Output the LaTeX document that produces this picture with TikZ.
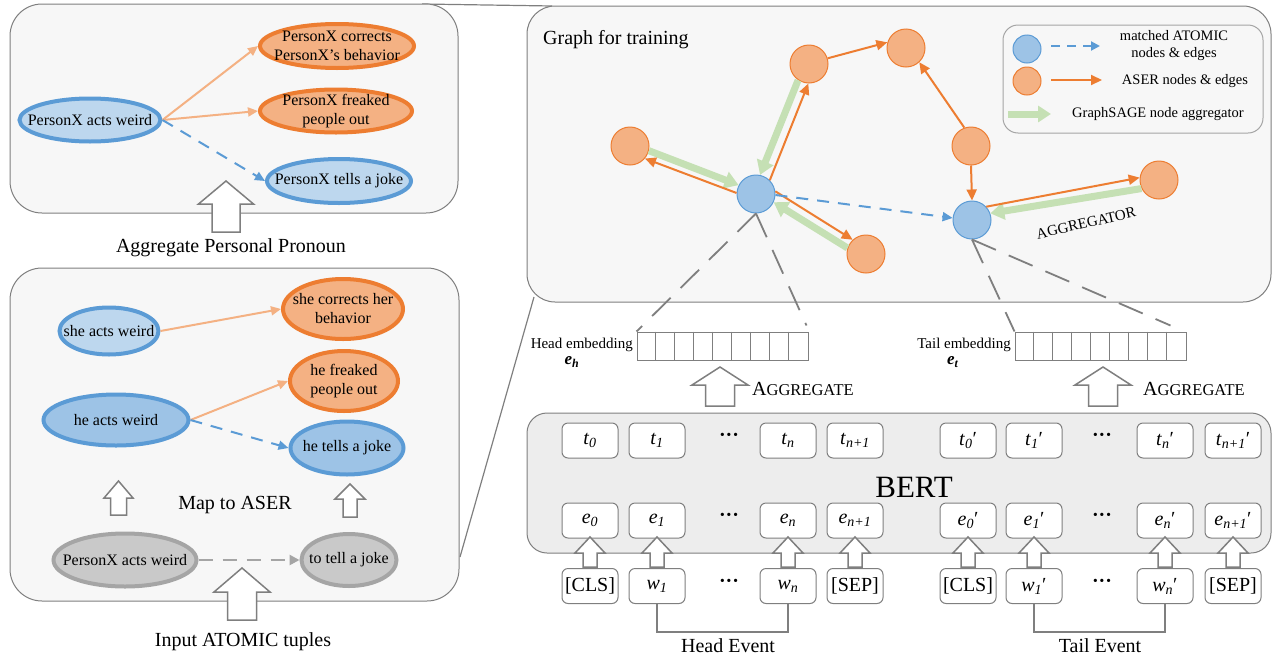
\documentclass[tikz,border=0pt]{standalone}
\usepackage{fontspec}
\setmainfont{Liberation Serif}
\usetikzlibrary{arrows.meta,calc,shapes.geometric}
\definecolor{bluefillA}{HTML}{BDD7EE}
\definecolor{bluefillB}{HTML}{9DC3E6}
\definecolor{blueline}{HTML}{5B9BD5}
\definecolor{orfill}{HTML}{F4B183}
\definecolor{orline}{HTML}{ED7D31}
\definecolor{gyfill}{HTML}{C9C9C9}
\definecolor{gyline}{HTML}{A5A5A5}
\definecolor{panelfill}{HTML}{F7F7F7}
\definecolor{panelline}{HTML}{7F7F7F}
\definecolor{bertfill}{HTML}{EDEDED}
\definecolor{aggreen}{HTML}{C5E0B4}
\newcommand\tsub[2]{\textit{#1}\textsubscript{\textit{#2}}}
\newcommand\aggtext{{\fontsize{20}{22}\selectfont A}{\fontsize{16.5}{20}\selectfont GGREGATE}}
\newcommand\hollowup[6]{%
  \draw[hollowarr] (#1,#2) -- ({#1+#5},#3) -- ({#1+#6},#3) -- ({#1+#6},#4) -- ({#1-#6},#4) -- ({#1-#6},#3) -- ({#1-#5},#3) -- cycle;}
\tikzset{
  panel/.style={draw=panelline, fill=panelfill, line width=1pt, rounded corners=32pt},
  zoomline/.style={draw=panelline, line width=1.2pt},
  eltxt/.style={font=\fontsize{16}{19}\selectfont, align=center, inner sep=0pt},
  ellA/.style={ellipse, draw=blueline, fill=bluefillA, line width=4pt, inner sep=0pt},
  ellB/.style={ellipse, draw=blueline, fill=bluefillB, line width=4pt, inner sep=0pt},
  ellO/.style={ellipse, draw=orline, fill=orfill, line width=4pt, inner sep=0pt},
  ellG/.style={ellipse, draw=gyline, fill=gyfill, line width=4pt, inner sep=0pt},
  larr/.style={draw=orfill, line width=2pt, -{Triangle[length=10pt,width=9pt]}},
  barr/.style={draw=blueline, line width=2pt, dash pattern=on 12pt off 9pt, -{Triangle[length=10pt,width=9pt]}},
  garr0/.style={draw=gyline, line width=2.5pt, dash pattern=on 14pt off 10pt, -{Triangle[length=10pt,width=10pt]}},
  hollowarr/.style={draw=panelline, fill=white, line width=1.5pt, line join=miter},
  caption/.style={font=\fontsize{20}{22}\selectfont, inner sep=0pt},
  gnode/.style={circle, minimum size=38pt, inner sep=0pt, line width=1pt},
  bnode/.style={gnode, draw=blueline, fill=bluefillB},
  onode/.style={gnode, draw=orline, fill=orfill},
  oarr/.style={draw=orline, line width=2pt, -{Triangle[length=11pt,width=10pt]}},
  greenarr/.style={draw=aggreen, line width=7pt, -{Triangle[length=14pt,width=17pt]}},
  bdash/.style={draw=blueline, line width=2pt, dash pattern=on 12pt off 9pt, -{Triangle[length=10pt,width=9pt]}},
  emdash/.style={draw=panelline, line width=1.8pt, dash pattern=on 26pt off 14pt},
  legtxt/.style={font=\fontsize{14.5}{17}\selectfont, align=center, inner sep=0pt},
  emb/.style={draw=panelline, line width=1pt, minimum width=171pt, minimum height=28pt, inner sep=0pt},
  tok/.style={draw=panelline, fill=white, rounded corners=6pt, minimum width=56pt, minimum height=35pt, inner sep=0pt, line width=1pt, font=\fontsize{20}{22}\selectfont},
  dots/.style={font=\fontsize{20}{22}\selectfont\bfseries, inner sep=0pt},
  bracket/.style={draw=panelline, line width=1.2pt},
}
\begin{document}
\begin{tikzpicture}[x=1pt,y=-1pt]
\useasboundingbox (0,0) rectangle (1277,659);

% zoom indicator lines
\draw[zoomline] (422,4) -- (552,6);
\draw[zoomline] (460,557) -- (534,297);

% panels
\draw[panel] (10,4) rectangle (458,213);
\draw[panel] (10,268) rectangle (459,601);
\draw[panel, rounded corners=28pt] (527,6) rectangle (1271,302);
\draw[panel, fill=bertfill, rounded corners=20pt] (527,413) rectangle (1271,553);

% ---------- top-left panel ----------
\node[ellA, minimum width=141pt, minimum height=43pt, label={[eltxt]center:PersonX acts weird}] (a1) at (90,120) {};
\node[ellO, minimum width=154pt, minimum height=44pt, label={[eltxt]center:{PersonX corrects\\PersonX's behavior}}] (a2) at (337,46) {};
\node[ellO, minimum width=152pt, minimum height=43pt, label={[eltxt]center:{PersonX freaked\\people out}}] (a3) at (336,111) {};
\node[ellA, minimum width=144pt, minimum height=44pt, label={[eltxt]center:PersonX tells a joke}] (a4) at (339,181) {};
\draw[larr] (a1.east) -- (a2.west);
\draw[larr] (a1.east) -- (a3.west);
\draw[barr] (a1.east) -- (a4.west);
\hollowup{226}{181}{204}{232}{27.5}{14}
\node[caption] (cap1) at (231,248) {Aggregate Personal Pronoun};

% ---------- bottom-left panel ----------
\node[ellA, minimum width=99pt, minimum height=47pt, label={[eltxt]center:she acts weird}] (b1) at (109,331) {};
\node[ellB, minimum width=145pt, minimum height=51pt, label={[eltxt]center:he acts weird}] (b2) at (116,420) {};
\node[ellO, minimum width=120pt, minimum height=60pt, label={[eltxt]center:{she corrects her\\behavior}}] (b3) at (343,309) {};
\node[ellO, minimum width=108pt, minimum height=60pt, label={[eltxt]center:{he freaked\\people out}}] (b4) at (344,381) {};
\node[ellB, minimum width=113pt, minimum height=53pt, label={[eltxt]center:he tells a joke}] (b5) at (347,448) {};
\node[ellG, minimum width=143pt, minimum height=53pt, label={[eltxt]center:PersonX acts weird}] (b6) at (125,560) {};
\node[ellG, minimum width=95pt, minimum height=52pt, label={[eltxt]center:to tell a joke}] (b7) at (349,560) {};
\draw[larr] (b1.east) -- (b3.west);
\draw[larr] (b2.east) -- (b4.west);
\draw[barr] (b2.east) -- (b5.west);
\draw[garr0] (b6.east) -- (b7.west);
\hollowup{118.5}{481}{498}{515}{14.5}{8}
\hollowup{350}{484}{499}{517}{15}{7}
\node[caption] (cap2) at (235,505) {Map to ASER};
\hollowup{242}{568}{592}{620}{28}{14.5}
\node[caption] (cap3) at (243,642) {Input ATOMIC tuples};

% ---------- graph panel ----------
\node[caption, anchor=west] (gtitle) at (543,40) {Graph for training};
\node[bnode] (h) at (756,194) {};
\node[bnode] (t) at (972,220) {};
\node[onode] (o1) at (630,146) {};
\node[onode] (o2) at (809,64) {};
\node[onode] (o3) at (906,48) {};
\node[onode] (o4) at (971,146) {};
\node[onode] (o5) at (866,254) {};
\node[onode] (o6) at (1159,180) {};

\draw[greenarr] (o1.-14) -- (h.153);
\draw[greenarr] (o2.236) -- (h.78);
\draw[greenarr] (o5.162) -- (h.-25);
\draw[greenarr] (o6.206) -- (t.20);
\draw[oarr] (h.177) -- (o1.-40);
\draw[oarr] (h.45) -- (o2.268);
\draw[oarr] (h.8) -- (o5.133);
\draw[oarr] (t.43) -- (o6.173);
\draw[oarr] (o2.17) -- (o3.163);
\draw[oarr] (o4.110) -- (o3.-47);
\draw[oarr] (o4.south) -- (t.north);
\draw[bdash] (h.-3) -- (t.174);
\node[font=\fontsize{15}{17}\selectfont, rotate=13, inner sep=0pt] (aggr) at (1086,223) {AGGREGATOR};

% legend
\draw[draw=gyline, fill=panelfill, line width=1pt, rounded corners=15pt] (1003,25) rectangle (1263,133);
\node[bnode, minimum size=28pt] (lb) at (1027,49) {};
\node[onode, minimum size=28pt] (lo) at (1027,81) {};
\coordinate (lb1) at (1051,46); \coordinate (lb2) at (1100,46);
\coordinate (lo1) at (1051,80); \coordinate (lo2) at (1102,80);
\coordinate (lg1) at (1008,114); \coordinate (lg2) at (1051,114);
\draw[draw=blueline, line width=2pt, dash pattern=on 9pt off 7pt, -{Triangle[length=9pt,width=9pt]}] (lb1) -- (lb2);
\draw[oarr] (lo1) -- (lo2);
\draw[greenarr, -{Triangle[length=13pt,width=16pt]}] (lg1) -- (lg2);
\node[legtxt] (lt1) at (1174,46) {matched ATOMIC\\nodes \& edges};
\node[legtxt] (lt2) at (1185,81) {ASER nodes \& edges};
\node[legtxt] (lt3) at (1158,114) {GraphSAGE node aggregator};

% ---------- embeddings ----------
\node[emb] (eh) at (722.5,346) {};
\node[emb] (et) at (1100.5,346) {};
\foreach \i in {1,...,8} {
  \draw[draw=panelline, line width=1pt] ($(eh.north west)+(19*\i,0)$) -- ($(eh.south west)+(19*\i,0)$);
  \draw[draw=panelline, line width=1pt] ($(et.north west)+(19*\i,0)$) -- ($(et.south west)+(19*\i,0)$);
}
\draw[emdash] (h.south) -- (eh.north west);
\draw[emdash] (h.south) -- ($(eh.north east)+(-2,-6)$);
\draw[emdash] (t.south) -- (et.north west);
\draw[emdash] (t.south) -- ($(et.north east)+(-16,-6)$);
\node[font=\fontsize{15}{17}\selectfont, anchor=east, inner sep=0pt] (ehl) at (633,345) {Head embedding};
\node[font=\fontsize{17}{19}\selectfont, inner sep=0pt] (ehs) at (572,362) {\textbf{\textit{e}}\textsubscript{\textbf{\textit{h}}}};
\node[font=\fontsize{15}{17}\selectfont, anchor=east, inner sep=0pt] (etl) at (1011,345) {Tail embedding};
\node[font=\fontsize{17}{19}\selectfont, inner sep=0pt] (ets) at (953,362) {\textbf{\textit{e}}\textsubscript{\textbf{\textit{t}}}};
\hollowup{720}{367}{385}{406}{28}{14.5}
\node[anchor=west, inner sep=0pt] (ag1) at (752,389) {\aggtext};
\hollowup{1103}{367}{385}{406}{28}{14.5}
\node[anchor=west, inner sep=0pt] (ag2) at (1143,389) {\aggtext};

% ---------- BERT ----------
\node[font=\fontsize{31}{33}\selectfont, inner sep=0pt] (bert) at (914,487) {BERT};
% top row
\node[tok] (t0) at (590,440.5) {\tsub{t}{0}};
\node[tok] (t1) at (657,440.5) {\tsub{t}{1}};
\node[dots] (td) at (729,437) {···};
\node[tok] (tn) at (788,440.5) {\tsub{t}{n}};
\node[tok] (tn1) at (855,440.5) {\tsub{t}{n+1}};
\node[tok] (t0p) at (968,440.5) {\tsub{t}{0}′};
\node[tok] (t1p) at (1034,440.5) {\tsub{t}{1}′};
\node[dots] (tdp) at (1102,437) {···};
\node[tok] (tnp) at (1165,440.5) {\tsub{t}{n}′};
\node[tok] (tn1p) at (1233,440.5) {\tsub{t}{n+1}′};
% e row
\node[tok] (e0) at (590,520.5) {\tsub{e}{0}};
\node[tok] (e1) at (657,520.5) {\tsub{e}{1}};
\node[dots] (ed) at (729,517) {···};
\node[tok] (en) at (788,520.5) {\tsub{e}{n}};
\node[tok] (en1) at (855,520.5) {\tsub{e}{n+1}};
\node[tok] (e0p) at (968,520.5) {\tsub{e}{0}′};
\node[tok] (e1p) at (1034,520.5) {\tsub{e}{1}′};
\node[dots] (edp) at (1102,517) {···};
\node[tok] (enp) at (1165,520.5) {\tsub{e}{n}′};
\node[tok] (en1p) at (1233,520.5) {\tsub{e}{n+1}′};
% input row
\node[tok] (w0) at (590,586) {[CLS]};
\node[tok] (w1) at (657,586) {\tsub{w}{1}};
\node[dots] (wd) at (729,583) {···};
\node[tok] (wn) at (788,586) {\tsub{w}{n}};
\node[tok] (wn1) at (855,586) {[SEP]};
\node[tok] (w0p) at (968,586) {[CLS]};
\node[tok] (w1p) at (1034,586) {\tsub{w}{1}′};
\node[dots] (wdp) at (1102,583) {···};
\node[tok] (wnp) at (1165,586) {\tsub{w}{n}′};
\node[tok] (wn1p) at (1233,586) {[SEP]};
% small hollow arrows
\foreach \c in {590,657,788,855,968,1034,1165,1233} {
  \hollowup{\c}{537}{553}{567}{15}{7}
}
% brackets
\draw[bracket] (w1.south) -- ++(0,28) -| (wn.south);
\draw[bracket] (w1p.south) -- ++(0,28) -| (wnp.south);
\node[caption] (hev) at (728,646) {Head Event};
\node[caption] (tev) at (1100,646) {Tail Event};
\end{tikzpicture}
\end{document}
